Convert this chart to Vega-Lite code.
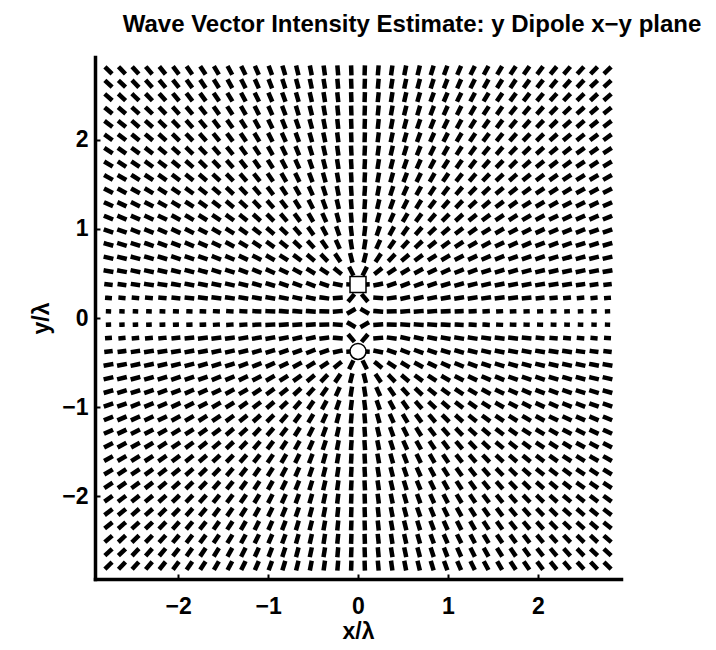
{
  "$schema": "https://vega.github.io/schema/vega-lite/v6.json",
  "width": 526,
  "height": 522,
  "autosize": {"type": "none"},
  "padding": {"left": 95, "top": 57, "right": 95, "bottom": 71},
  "background": "white",
  "config": {
    "view": {"stroke": null},
    "font": "Liberation Sans",
    "axis": {
      "grid": false,
      "domainColor": "black",
      "domainWidth": 3.5,
      "domainCap": "square",
      "tickColor": "black",
      "tickWidth": 2,
      "tickSize": -5,
      "labelFont": "Liberation Sans",
      "labelFontSize": 23,
      "labelFontWeight": "bold",
      "labelColor": "black",
      "titleFont": "Liberation Sans",
      "titleFontSize": 23,
      "titleFontWeight": "bold",
      "titleColor": "black"
    }
  },
  "title": {
    "text": "Wave Vector Intensity Estimate: y Dipole x−y plane",
    "font": "Liberation Sans",
    "fontSize": 24,
    "fontWeight": "bold",
    "color": "black",
    "anchor": "middle",
    "frame": "group",
    "dx": 54,
    "dy": 24,
    "offset": 25,
    "baseline": "alphabetic"
  },
  "datasets": {
    "field": [
{"x":-2.775,"y":2.775,"a":136},{"x":-2.625,"y":2.775,"a":134},{"x":-2.475,"y":2.775,"a":132},{"x":-2.325,"y":2.775,"a":131},{"x":-2.175,"y":2.775,"a":129},{"x":-2.025,"y":2.775,"a":127},{"x":-1.875,"y":2.775,"a":125},{"x":-1.725,"y":2.775,"a":123},{"x":-1.575,"y":2.775,"a":120},{"x":-1.425,"y":2.775,"a":118},{"x":-1.275,"y":2.775,"a":116},{"x":-1.125,"y":2.775,"a":113},{"x":-0.975,"y":2.775,"a":110},{"x":-0.825,"y":2.775,"a":107},{"x":-0.675,"y":2.775,"a":104},{"x":-0.525,"y":2.775,"a":101},{"x":-0.375,"y":2.775,"a":98},{"x":-0.225,"y":2.775,"a":95},{"x":-0.075,"y":2.775,"a":92},
{"x":0.075,"y":2.775,"a":88},{"x":0.225,"y":2.775,"a":85},{"x":0.375,"y":2.775,"a":82},{"x":0.525,"y":2.775,"a":79},{"x":0.675,"y":2.775,"a":76},{"x":0.825,"y":2.775,"a":73},{"x":0.975,"y":2.775,"a":70},{"x":1.125,"y":2.775,"a":67},{"x":1.275,"y":2.775,"a":64},{"x":1.425,"y":2.775,"a":62},{"x":1.575,"y":2.775,"a":60},{"x":1.725,"y":2.775,"a":57},{"x":1.875,"y":2.775,"a":55},{"x":2.025,"y":2.775,"a":53},{"x":2.175,"y":2.775,"a":51},{"x":2.325,"y":2.775,"a":49},{"x":2.475,"y":2.775,"a":48},{"x":2.625,"y":2.775,"a":46},{"x":2.775,"y":2.775,"a":44},
{"x":-2.775,"y":2.625,"a":137},{"x":-2.625,"y":2.625,"a":136},{"x":-2.475,"y":2.625,"a":134},{"x":-2.325,"y":2.625,"a":132},{"x":-2.175,"y":2.625,"a":130},{"x":-2.025,"y":2.625,"a":128},{"x":-1.875,"y":2.625,"a":126},{"x":-1.725,"y":2.625,"a":124},{"x":-1.575,"y":2.625,"a":122},{"x":-1.425,"y":2.625,"a":119},{"x":-1.275,"y":2.625,"a":117},{"x":-1.125,"y":2.625,"a":114},{"x":-0.975,"y":2.625,"a":111},{"x":-0.825,"y":2.625,"a":108},{"x":-0.675,"y":2.625,"a":105},{"x":-0.525,"y":2.625,"a":102},{"x":-0.375,"y":2.625,"a":99},{"x":-0.225,"y":2.625,"a":95},{"x":-0.075,"y":2.625,"a":92},
{"x":0.075,"y":2.625,"a":88},{"x":0.225,"y":2.625,"a":85},{"x":0.375,"y":2.625,"a":81},{"x":0.525,"y":2.625,"a":78},{"x":0.675,"y":2.625,"a":75},{"x":0.825,"y":2.625,"a":72},{"x":0.975,"y":2.625,"a":69},{"x":1.125,"y":2.625,"a":66},{"x":1.275,"y":2.625,"a":63},{"x":1.425,"y":2.625,"a":61},{"x":1.575,"y":2.625,"a":58},{"x":1.725,"y":2.625,"a":56},{"x":1.875,"y":2.625,"a":54},{"x":2.025,"y":2.625,"a":52},{"x":2.175,"y":2.625,"a":50},{"x":2.325,"y":2.625,"a":48},{"x":2.475,"y":2.625,"a":46},{"x":2.625,"y":2.625,"a":44},{"x":2.775,"y":2.625,"a":43},
{"x":-2.775,"y":2.475,"a":139},{"x":-2.625,"y":2.475,"a":137},{"x":-2.475,"y":2.475,"a":136},{"x":-2.325,"y":2.475,"a":134},{"x":-2.175,"y":2.475,"a":132},{"x":-2.025,"y":2.475,"a":130},{"x":-1.875,"y":2.475,"a":128},{"x":-1.725,"y":2.475,"a":126},{"x":-1.575,"y":2.475,"a":124},{"x":-1.425,"y":2.475,"a":121},{"x":-1.275,"y":2.475,"a":118},{"x":-1.125,"y":2.475,"a":116},{"x":-0.975,"y":2.475,"a":113},{"x":-0.825,"y":2.475,"a":110},{"x":-0.675,"y":2.475,"a":106},{"x":-0.525,"y":2.475,"a":103},{"x":-0.375,"y":2.475,"a":99},{"x":-0.225,"y":2.475,"a":96},{"x":-0.075,"y":2.475,"a":92},
{"x":0.075,"y":2.475,"a":88},{"x":0.225,"y":2.475,"a":84},{"x":0.375,"y":2.475,"a":81},{"x":0.525,"y":2.475,"a":77},{"x":0.675,"y":2.475,"a":74},{"x":0.825,"y":2.475,"a":70},{"x":0.975,"y":2.475,"a":67},{"x":1.125,"y":2.475,"a":64},{"x":1.275,"y":2.475,"a":62},{"x":1.425,"y":2.475,"a":59},{"x":1.575,"y":2.475,"a":56},{"x":1.725,"y":2.475,"a":54},{"x":1.875,"y":2.475,"a":52},{"x":2.025,"y":2.475,"a":50},{"x":2.175,"y":2.475,"a":48},{"x":2.325,"y":2.475,"a":46},{"x":2.475,"y":2.475,"a":44},{"x":2.625,"y":2.475,"a":43},{"x":2.775,"y":2.475,"a":41},
{"x":-2.775,"y":2.325,"a":141},{"x":-2.625,"y":2.325,"a":139},{"x":-2.475,"y":2.325,"a":138},{"x":-2.325,"y":2.325,"a":136},{"x":-2.175,"y":2.325,"a":134},{"x":-2.025,"y":2.325,"a":132},{"x":-1.875,"y":2.325,"a":130},{"x":-1.725,"y":2.325,"a":128},{"x":-1.575,"y":2.325,"a":125},{"x":-1.425,"y":2.325,"a":123},{"x":-1.275,"y":2.325,"a":120},{"x":-1.125,"y":2.325,"a":117},{"x":-0.975,"y":2.325,"a":114},{"x":-0.825,"y":2.325,"a":111},{"x":-0.675,"y":2.325,"a":107},{"x":-0.525,"y":2.325,"a":104},{"x":-0.375,"y":2.325,"a":100},{"x":-0.225,"y":2.325,"a":96},{"x":-0.075,"y":2.325,"a":92},
{"x":0.075,"y":2.325,"a":88},{"x":0.225,"y":2.325,"a":84},{"x":0.375,"y":2.325,"a":80},{"x":0.525,"y":2.325,"a":76},{"x":0.675,"y":2.325,"a":73},{"x":0.825,"y":2.325,"a":69},{"x":0.975,"y":2.325,"a":66},{"x":1.125,"y":2.325,"a":63},{"x":1.275,"y":2.325,"a":60},{"x":1.425,"y":2.325,"a":57},{"x":1.575,"y":2.325,"a":55},{"x":1.725,"y":2.325,"a":52},{"x":1.875,"y":2.325,"a":50},{"x":2.025,"y":2.325,"a":48},{"x":2.175,"y":2.325,"a":46},{"x":2.325,"y":2.325,"a":44},{"x":2.475,"y":2.325,"a":42},{"x":2.625,"y":2.325,"a":41},{"x":2.775,"y":2.325,"a":39},
{"x":-2.775,"y":2.175,"a":143},{"x":-2.625,"y":2.175,"a":141},{"x":-2.475,"y":2.175,"a":139},{"x":-2.325,"y":2.175,"a":138},{"x":-2.175,"y":2.175,"a":136},{"x":-2.025,"y":2.175,"a":134},{"x":-1.875,"y":2.175,"a":132},{"x":-1.725,"y":2.175,"a":130},{"x":-1.575,"y":2.175,"a":127},{"x":-1.425,"y":2.175,"a":125},{"x":-1.275,"y":2.175,"a":122},{"x":-1.125,"y":2.175,"a":119},{"x":-0.975,"y":2.175,"a":116},{"x":-0.825,"y":2.175,"a":112},{"x":-0.675,"y":2.175,"a":109},{"x":-0.525,"y":2.175,"a":105},{"x":-0.375,"y":2.175,"a":101},{"x":-0.225,"y":2.175,"a":96},{"x":-0.075,"y":2.175,"a":92},
{"x":0.075,"y":2.175,"a":88},{"x":0.225,"y":2.175,"a":84},{"x":0.375,"y":2.175,"a":79},{"x":0.525,"y":2.175,"a":75},{"x":0.675,"y":2.175,"a":71},{"x":0.825,"y":2.175,"a":68},{"x":0.975,"y":2.175,"a":64},{"x":1.125,"y":2.175,"a":61},{"x":1.275,"y":2.175,"a":58},{"x":1.425,"y":2.175,"a":55},{"x":1.575,"y":2.175,"a":53},{"x":1.725,"y":2.175,"a":50},{"x":1.875,"y":2.175,"a":48},{"x":2.025,"y":2.175,"a":46},{"x":2.175,"y":2.175,"a":44},{"x":2.325,"y":2.175,"a":42},{"x":2.475,"y":2.175,"a":41},{"x":2.625,"y":2.175,"a":39},{"x":2.775,"y":2.175,"a":37},
{"x":-2.775,"y":2.025,"a":144},{"x":-2.625,"y":2.025,"a":143},{"x":-2.475,"y":2.025,"a":141},{"x":-2.325,"y":2.025,"a":140},{"x":-2.175,"y":2.025,"a":138},{"x":-2.025,"y":2.025,"a":136},{"x":-1.875,"y":2.025,"a":134},{"x":-1.725,"y":2.025,"a":132},{"x":-1.575,"y":2.025,"a":129},{"x":-1.425,"y":2.025,"a":127},{"x":-1.275,"y":2.025,"a":124},{"x":-1.125,"y":2.025,"a":121},{"x":-0.975,"y":2.025,"a":117},{"x":-0.825,"y":2.025,"a":114},{"x":-0.675,"y":2.025,"a":110},{"x":-0.525,"y":2.025,"a":106},{"x":-0.375,"y":2.025,"a":102},{"x":-0.225,"y":2.025,"a":97},{"x":-0.075,"y":2.025,"a":92},
{"x":0.075,"y":2.025,"a":88},{"x":0.225,"y":2.025,"a":83},{"x":0.375,"y":2.025,"a":78},{"x":0.525,"y":2.025,"a":74},{"x":0.675,"y":2.025,"a":70},{"x":0.825,"y":2.025,"a":66},{"x":0.975,"y":2.025,"a":63},{"x":1.125,"y":2.025,"a":59},{"x":1.275,"y":2.025,"a":56},{"x":1.425,"y":2.025,"a":53},{"x":1.575,"y":2.025,"a":51},{"x":1.725,"y":2.025,"a":48},{"x":1.875,"y":2.025,"a":46},{"x":2.025,"y":2.025,"a":44},{"x":2.175,"y":2.025,"a":42},{"x":2.325,"y":2.025,"a":40},{"x":2.475,"y":2.025,"a":39},{"x":2.625,"y":2.025,"a":37},{"x":2.775,"y":2.025,"a":36},
{"x":-2.775,"y":1.875,"a":147},{"x":-2.625,"y":1.875,"a":145},{"x":-2.475,"y":1.875,"a":144},{"x":-2.325,"y":1.875,"a":142},{"x":-2.175,"y":1.875,"a":140},{"x":-2.025,"y":1.875,"a":138},{"x":-1.875,"y":1.875,"a":136},{"x":-1.725,"y":1.875,"a":134},{"x":-1.575,"y":1.875,"a":131},{"x":-1.425,"y":1.875,"a":129},{"x":-1.275,"y":1.875,"a":126},{"x":-1.125,"y":1.875,"a":123},{"x":-0.975,"y":1.875,"a":119},{"x":-0.825,"y":1.875,"a":116},{"x":-0.675,"y":1.875,"a":112},{"x":-0.525,"y":1.875,"a":107},{"x":-0.375,"y":1.875,"a":103},{"x":-0.225,"y":1.875,"a":98},{"x":-0.075,"y":1.875,"a":93},
{"x":0.075,"y":1.875,"a":87},{"x":0.225,"y":1.875,"a":82},{"x":0.375,"y":1.875,"a":77},{"x":0.525,"y":1.875,"a":73},{"x":0.675,"y":1.875,"a":68},{"x":0.825,"y":1.875,"a":64},{"x":0.975,"y":1.875,"a":61},{"x":1.125,"y":1.875,"a":57},{"x":1.275,"y":1.875,"a":54},{"x":1.425,"y":1.875,"a":51},{"x":1.575,"y":1.875,"a":49},{"x":1.725,"y":1.875,"a":46},{"x":1.875,"y":1.875,"a":44},{"x":2.025,"y":1.875,"a":42},{"x":2.175,"y":1.875,"a":40},{"x":2.325,"y":1.875,"a":38},{"x":2.475,"y":1.875,"a":36},{"x":2.625,"y":1.875,"a":35},{"x":2.775,"y":1.875,"a":33},
{"x":-2.775,"y":1.725,"a":149},{"x":-2.625,"y":1.725,"a":147},{"x":-2.475,"y":1.725,"a":146},{"x":-2.325,"y":1.725,"a":144},{"x":-2.175,"y":1.725,"a":143},{"x":-2.025,"y":1.725,"a":141},{"x":-1.875,"y":1.725,"a":139},{"x":-1.725,"y":1.725,"a":136},{"x":-1.575,"y":1.725,"a":134},{"x":-1.425,"y":1.725,"a":131},{"x":-1.275,"y":1.725,"a":128},{"x":-1.125,"y":1.725,"a":125},{"x":-0.975,"y":1.725,"a":122},{"x":-0.825,"y":1.725,"a":118},{"x":-0.675,"y":1.725,"a":114},{"x":-0.525,"y":1.725,"a":109},{"x":-0.375,"y":1.725,"a":104},{"x":-0.225,"y":1.725,"a":99},{"x":-0.075,"y":1.725,"a":93},
{"x":0.075,"y":1.725,"a":87},{"x":0.225,"y":1.725,"a":81},{"x":0.375,"y":1.725,"a":76},{"x":0.525,"y":1.725,"a":71},{"x":0.675,"y":1.725,"a":66},{"x":0.825,"y":1.725,"a":62},{"x":0.975,"y":1.725,"a":58},{"x":1.125,"y":1.725,"a":55},{"x":1.275,"y":1.725,"a":52},{"x":1.425,"y":1.725,"a":49},{"x":1.575,"y":1.725,"a":46},{"x":1.725,"y":1.725,"a":44},{"x":1.875,"y":1.725,"a":41},{"x":2.025,"y":1.725,"a":39},{"x":2.175,"y":1.725,"a":37},{"x":2.325,"y":1.725,"a":36},{"x":2.475,"y":1.725,"a":34},{"x":2.625,"y":1.725,"a":33},{"x":2.775,"y":1.725,"a":31},
{"x":-2.775,"y":1.575,"a":151},{"x":-2.625,"y":1.575,"a":150},{"x":-2.475,"y":1.575,"a":148},{"x":-2.325,"y":1.575,"a":147},{"x":-2.175,"y":1.575,"a":145},{"x":-2.025,"y":1.575,"a":143},{"x":-1.875,"y":1.575,"a":141},{"x":-1.725,"y":1.575,"a":139},{"x":-1.575,"y":1.575,"a":137},{"x":-1.425,"y":1.575,"a":134},{"x":-1.275,"y":1.575,"a":131},{"x":-1.125,"y":1.575,"a":128},{"x":-0.975,"y":1.575,"a":124},{"x":-0.825,"y":1.575,"a":120},{"x":-0.675,"y":1.575,"a":116},{"x":-0.525,"y":1.575,"a":111},{"x":-0.375,"y":1.575,"a":106},{"x":-0.225,"y":1.575,"a":100},{"x":-0.075,"y":1.575,"a":93},
{"x":0.075,"y":1.575,"a":87},{"x":0.225,"y":1.575,"a":80},{"x":0.375,"y":1.575,"a":74},{"x":0.525,"y":1.575,"a":69},{"x":0.675,"y":1.575,"a":64},{"x":0.825,"y":1.575,"a":60},{"x":0.975,"y":1.575,"a":56},{"x":1.125,"y":1.575,"a":52},{"x":1.275,"y":1.575,"a":49},{"x":1.425,"y":1.575,"a":46},{"x":1.575,"y":1.575,"a":43},{"x":1.725,"y":1.575,"a":41},{"x":1.875,"y":1.575,"a":39},{"x":2.025,"y":1.575,"a":37},{"x":2.175,"y":1.575,"a":35},{"x":2.325,"y":1.575,"a":33},{"x":2.475,"y":1.575,"a":32},{"x":2.625,"y":1.575,"a":30},{"x":2.775,"y":1.575,"a":29},
{"x":-2.775,"y":1.425,"a":153},{"x":-2.625,"y":1.425,"a":152},{"x":-2.475,"y":1.425,"a":151},{"x":-2.325,"y":1.425,"a":149},{"x":-2.175,"y":1.425,"a":148},{"x":-2.025,"y":1.425,"a":146},{"x":-1.875,"y":1.425,"a":144},{"x":-1.725,"y":1.425,"a":142},{"x":-1.575,"y":1.425,"a":140},{"x":-1.425,"y":1.425,"a":137},{"x":-1.275,"y":1.425,"a":134},{"x":-1.125,"y":1.425,"a":131},{"x":-0.975,"y":1.425,"a":127},{"x":-0.825,"y":1.425,"a":123},{"x":-0.675,"y":1.425,"a":119},{"x":-0.525,"y":1.425,"a":114},{"x":-0.375,"y":1.425,"a":108},{"x":-0.225,"y":1.425,"a":101},{"x":-0.075,"y":1.425,"a":94},
{"x":0.075,"y":1.425,"a":86},{"x":0.225,"y":1.425,"a":79},{"x":0.375,"y":1.425,"a":72},{"x":0.525,"y":1.425,"a":66},{"x":0.675,"y":1.425,"a":61},{"x":0.825,"y":1.425,"a":57},{"x":0.975,"y":1.425,"a":53},{"x":1.125,"y":1.425,"a":49},{"x":1.275,"y":1.425,"a":46},{"x":1.425,"y":1.425,"a":43},{"x":1.575,"y":1.425,"a":40},{"x":1.725,"y":1.425,"a":38},{"x":1.875,"y":1.425,"a":36},{"x":2.025,"y":1.425,"a":34},{"x":2.175,"y":1.425,"a":32},{"x":2.325,"y":1.425,"a":31},{"x":2.475,"y":1.425,"a":29},{"x":2.625,"y":1.425,"a":28},{"x":2.775,"y":1.425,"a":27},
{"x":-2.775,"y":1.275,"a":156},{"x":-2.625,"y":1.275,"a":155},{"x":-2.475,"y":1.275,"a":154},{"x":-2.325,"y":1.275,"a":152},{"x":-2.175,"y":1.275,"a":151},{"x":-2.025,"y":1.275,"a":149},{"x":-1.875,"y":1.275,"a":147},{"x":-1.725,"y":1.275,"a":145},{"x":-1.575,"y":1.275,"a":143},{"x":-1.425,"y":1.275,"a":140},{"x":-1.275,"y":1.275,"a":138},{"x":-1.125,"y":1.275,"a":134},{"x":-0.975,"y":1.275,"a":131},{"x":-0.825,"y":1.275,"a":127},{"x":-0.675,"y":1.275,"a":122},{"x":-0.525,"y":1.275,"a":117},{"x":-0.375,"y":1.275,"a":110},{"x":-0.225,"y":1.275,"a":103},{"x":-0.075,"y":1.275,"a":94},
{"x":0.075,"y":1.275,"a":86},{"x":0.225,"y":1.275,"a":77},{"x":0.375,"y":1.275,"a":70},{"x":0.525,"y":1.275,"a":63},{"x":0.675,"y":1.275,"a":58},{"x":0.825,"y":1.275,"a":53},{"x":0.975,"y":1.275,"a":49},{"x":1.125,"y":1.275,"a":46},{"x":1.275,"y":1.275,"a":42},{"x":1.425,"y":1.275,"a":40},{"x":1.575,"y":1.275,"a":37},{"x":1.725,"y":1.275,"a":35},{"x":1.875,"y":1.275,"a":33},{"x":2.025,"y":1.275,"a":31},{"x":2.175,"y":1.275,"a":29},{"x":2.325,"y":1.275,"a":28},{"x":2.475,"y":1.275,"a":26},{"x":2.625,"y":1.275,"a":25},{"x":2.775,"y":1.275,"a":24},
{"x":-2.775,"y":1.125,"a":158},{"x":-2.625,"y":1.125,"a":157},{"x":-2.475,"y":1.125,"a":156},{"x":-2.325,"y":1.125,"a":155},{"x":-2.175,"y":1.125,"a":154},{"x":-2.025,"y":1.125,"a":152},{"x":-1.875,"y":1.125,"a":150},{"x":-1.725,"y":1.125,"a":148},{"x":-1.575,"y":1.125,"a":146},{"x":-1.425,"y":1.125,"a":144},{"x":-1.275,"y":1.125,"a":141},{"x":-1.125,"y":1.125,"a":138},{"x":-0.975,"y":1.125,"a":135},{"x":-0.825,"y":1.125,"a":131},{"x":-0.675,"y":1.125,"a":126},{"x":-0.525,"y":1.125,"a":120},{"x":-0.375,"y":1.125,"a":114},{"x":-0.225,"y":1.125,"a":105},{"x":-0.075,"y":1.125,"a":95},
{"x":0.075,"y":1.125,"a":85},{"x":0.225,"y":1.125,"a":75},{"x":0.375,"y":1.125,"a":66},{"x":0.525,"y":1.125,"a":60},{"x":0.675,"y":1.125,"a":54},{"x":0.825,"y":1.125,"a":49},{"x":0.975,"y":1.125,"a":45},{"x":1.125,"y":1.125,"a":42},{"x":1.275,"y":1.125,"a":39},{"x":1.425,"y":1.125,"a":36},{"x":1.575,"y":1.125,"a":34},{"x":1.725,"y":1.125,"a":32},{"x":1.875,"y":1.125,"a":30},{"x":2.025,"y":1.125,"a":28},{"x":2.175,"y":1.125,"a":26},{"x":2.325,"y":1.125,"a":25},{"x":2.475,"y":1.125,"a":24},{"x":2.625,"y":1.125,"a":23},{"x":2.775,"y":1.125,"a":22},
{"x":-2.775,"y":0.975,"a":161},{"x":-2.625,"y":0.975,"a":160},{"x":-2.475,"y":0.975,"a":159},{"x":-2.325,"y":0.975,"a":158},{"x":-2.175,"y":0.975,"a":157},{"x":-2.025,"y":0.975,"a":155},{"x":-1.875,"y":0.975,"a":154},{"x":-1.725,"y":0.975,"a":152},{"x":-1.575,"y":0.975,"a":150},{"x":-1.425,"y":0.975,"a":148},{"x":-1.275,"y":0.975,"a":145},{"x":-1.125,"y":0.975,"a":142},{"x":-0.975,"y":0.975,"a":139},{"x":-0.825,"y":0.975,"a":136},{"x":-0.675,"y":0.975,"a":131},{"x":-0.525,"y":0.975,"a":125},{"x":-0.375,"y":0.975,"a":118},{"x":-0.225,"y":0.975,"a":109},{"x":-0.075,"y":0.975,"a":97},
{"x":0.075,"y":0.975,"a":83},{"x":0.225,"y":0.975,"a":71},{"x":0.375,"y":0.975,"a":62},{"x":0.525,"y":0.975,"a":55},{"x":0.675,"y":0.975,"a":49},{"x":0.825,"y":0.975,"a":44},{"x":0.975,"y":0.975,"a":41},{"x":1.125,"y":0.975,"a":38},{"x":1.275,"y":0.975,"a":35},{"x":1.425,"y":0.975,"a":32},{"x":1.575,"y":0.975,"a":30},{"x":1.725,"y":0.975,"a":28},{"x":1.875,"y":0.975,"a":26},{"x":2.025,"y":0.975,"a":25},{"x":2.175,"y":0.975,"a":23},{"x":2.325,"y":0.975,"a":22},{"x":2.475,"y":0.975,"a":21},{"x":2.625,"y":0.975,"a":20},{"x":2.775,"y":0.975,"a":19},
{"x":-2.775,"y":0.825,"a":164},{"x":-2.625,"y":0.825,"a":163},{"x":-2.475,"y":0.825,"a":162},{"x":-2.325,"y":0.825,"a":161},{"x":-2.175,"y":0.825,"a":160},{"x":-2.025,"y":0.825,"a":159},{"x":-1.875,"y":0.825,"a":157},{"x":-1.725,"y":0.825,"a":156},{"x":-1.575,"y":0.825,"a":154},{"x":-1.425,"y":0.825,"a":152},{"x":-1.275,"y":0.825,"a":150},{"x":-1.125,"y":0.825,"a":147},{"x":-0.975,"y":0.825,"a":144},{"x":-0.825,"y":0.825,"a":141},{"x":-0.675,"y":0.825,"a":137},{"x":-0.525,"y":0.825,"a":132},{"x":-0.375,"y":0.825,"a":125},{"x":-0.225,"y":0.825,"a":114},{"x":-0.075,"y":0.825,"a":99},
{"x":0.075,"y":0.825,"a":81},{"x":0.225,"y":0.825,"a":66},{"x":0.375,"y":0.825,"a":55},{"x":0.525,"y":0.825,"a":48},{"x":0.675,"y":0.825,"a":43},{"x":0.825,"y":0.825,"a":39},{"x":0.975,"y":0.825,"a":36},{"x":1.125,"y":0.825,"a":33},{"x":1.275,"y":0.825,"a":30},{"x":1.425,"y":0.825,"a":28},{"x":1.575,"y":0.825,"a":26},{"x":1.725,"y":0.825,"a":24},{"x":1.875,"y":0.825,"a":23},{"x":2.025,"y":0.825,"a":21},{"x":2.175,"y":0.825,"a":20},{"x":2.325,"y":0.825,"a":19},{"x":2.475,"y":0.825,"a":18},{"x":2.625,"y":0.825,"a":17},{"x":2.775,"y":0.825,"a":16},
{"x":-2.775,"y":0.675,"a":167},{"x":-2.625,"y":0.675,"a":166},{"x":-2.475,"y":0.675,"a":165},{"x":-2.325,"y":0.675,"a":164},{"x":-2.175,"y":0.675,"a":163},{"x":-2.025,"y":0.675,"a":162},{"x":-1.875,"y":0.675,"a":161},{"x":-1.725,"y":0.675,"a":160},{"x":-1.575,"y":0.675,"a":158},{"x":-1.425,"y":0.675,"a":157},{"x":-1.275,"y":0.675,"a":155},{"x":-1.125,"y":0.675,"a":153},{"x":-0.975,"y":0.675,"a":150},{"x":-0.825,"y":0.675,"a":147},{"x":-0.675,"y":0.675,"a":144},{"x":-0.525,"y":0.675,"a":140},{"x":-0.375,"y":0.675,"a":134},{"x":-0.225,"y":0.675,"a":124},{"x":-0.075,"y":0.675,"a":104},
{"x":0.075,"y":0.675,"a":76},{"x":0.225,"y":0.675,"a":56},{"x":0.375,"y":0.675,"a":46},{"x":0.525,"y":0.675,"a":40},{"x":0.675,"y":0.675,"a":36},{"x":0.825,"y":0.675,"a":33},{"x":0.975,"y":0.675,"a":30},{"x":1.125,"y":0.675,"a":27},{"x":1.275,"y":0.675,"a":25},{"x":1.425,"y":0.675,"a":23},{"x":1.575,"y":0.675,"a":22},{"x":1.725,"y":0.675,"a":20},{"x":1.875,"y":0.675,"a":19},{"x":2.025,"y":0.675,"a":18},{"x":2.175,"y":0.675,"a":17},{"x":2.325,"y":0.675,"a":16},{"x":2.475,"y":0.675,"a":15},{"x":2.625,"y":0.675,"a":14},{"x":2.775,"y":0.675,"a":13},
{"x":-2.775,"y":0.525,"a":170},{"x":-2.625,"y":0.525,"a":169},{"x":-2.475,"y":0.525,"a":168},{"x":-2.325,"y":0.525,"a":168},{"x":-2.175,"y":0.525,"a":167},{"x":-2.025,"y":0.525,"a":166},{"x":-1.875,"y":0.525,"a":165},{"x":-1.725,"y":0.525,"a":164},{"x":-1.575,"y":0.525,"a":163},{"x":-1.425,"y":0.525,"a":162},{"x":-1.275,"y":0.525,"a":160},{"x":-1.125,"y":0.525,"a":158},{"x":-0.975,"y":0.525,"a":156},{"x":-0.825,"y":0.525,"a":154},{"x":-0.675,"y":0.525,"a":152},{"x":-0.525,"y":0.525,"a":149},{"x":-0.375,"y":0.525,"a":147},{"x":-0.225,"y":0.525,"a":141},{"x":-0.075,"y":0.525,"a":116},
{"x":0.075,"y":0.525,"a":64},{"x":0.225,"y":0.525,"a":39},{"x":0.375,"y":0.525,"a":33},{"x":0.525,"y":0.525,"a":31},{"x":0.675,"y":0.525,"a":28},{"x":0.825,"y":0.525,"a":26},{"x":0.975,"y":0.525,"a":24},{"x":1.125,"y":0.525,"a":22},{"x":1.275,"y":0.525,"a":20},{"x":1.425,"y":0.525,"a":18},{"x":1.575,"y":0.525,"a":17},{"x":1.725,"y":0.525,"a":16},{"x":1.875,"y":0.525,"a":15},{"x":2.025,"y":0.525,"a":14},{"x":2.175,"y":0.525,"a":13},{"x":2.325,"y":0.525,"a":12},{"x":2.475,"y":0.525,"a":12},{"x":2.625,"y":0.525,"a":11},{"x":2.775,"y":0.525,"a":10},
{"x":-2.325,"y":0.375,"a":171},{"x":-2.175,"y":0.375,"a":171},{"x":-2.025,"y":0.375,"a":170},{"x":-1.875,"y":0.375,"a":169},{"x":-1.725,"y":0.375,"a":169},{"x":-1.575,"y":0.375,"a":168},{"x":-1.425,"y":0.375,"a":167},{"x":-1.275,"y":0.375,"a":166},{"x":-1.125,"y":0.375,"a":164},{"x":-0.975,"y":0.375,"a":163},{"x":-0.825,"y":0.375,"a":161},{"x":-0.675,"y":0.375,"a":160},{"x":-0.525,"y":0.375,"a":159},{"x":-0.375,"y":0.375,"a":161},{"x":-0.225,"y":0.375,"a":168},{"x":-0.075,"y":0.375,"a":178},
{"x":0.075,"y":0.375,"a":2},{"x":0.225,"y":0.375,"a":12},{"x":0.375,"y":0.375,"a":19},{"x":0.525,"y":0.375,"a":21},{"x":0.675,"y":0.375,"a":20},{"x":0.825,"y":0.375,"a":19},{"x":0.975,"y":0.375,"a":17},{"x":1.125,"y":0.375,"a":16},{"x":1.275,"y":0.375,"a":14},{"x":1.425,"y":0.375,"a":13},{"x":1.575,"y":0.375,"a":12},{"x":1.725,"y":0.375,"a":11},{"x":1.875,"y":0.375,"a":11},{"x":2.025,"y":0.375,"a":10},{"x":2.175,"y":0.375,"a":9},{"x":2.325,"y":0.375,"a":9},
{"x":-1.725,"y":0.225,"a":173},{"x":-1.575,"y":0.225,"a":173},{"x":-1.425,"y":0.225,"a":172},{"x":-1.275,"y":0.225,"a":171},{"x":-1.125,"y":0.225,"a":171},{"x":-0.975,"y":0.225,"a":170},{"x":-0.825,"y":0.225,"a":169},{"x":-0.675,"y":0.225,"a":168},{"x":-0.525,"y":0.225,"a":168},{"x":-0.375,"y":0.225,"a":172},{"x":-0.225,"y":0.225,"a":5},{"x":-0.075,"y":0.225,"a":50},
{"x":0.075,"y":0.225,"a":130},{"x":0.225,"y":0.225,"a":175},{"x":0.375,"y":0.225,"a":8},{"x":0.525,"y":0.225,"a":12},{"x":0.675,"y":0.225,"a":12},{"x":0.825,"y":0.225,"a":11},{"x":0.975,"y":0.225,"a":10},{"x":1.125,"y":0.225,"a":9},{"x":1.275,"y":0.225,"a":9},{"x":1.425,"y":0.225,"a":8},{"x":1.575,"y":0.225,"a":7},{"x":1.725,"y":0.225,"a":7},
{"x":-0.975,"y":0.075,"a":177},{"x":-0.825,"y":0.075,"a":176},{"x":-0.675,"y":0.075,"a":176},{"x":-0.525,"y":0.075,"a":176},{"x":-0.375,"y":0.075,"a":178},{"x":-0.225,"y":0.075,"a":4},{"x":-0.075,"y":0.075,"a":30},
{"x":0.075,"y":0.075,"a":150},{"x":0.225,"y":0.075,"a":176},{"x":0.375,"y":0.075,"a":2},{"x":0.525,"y":0.075,"a":4},{"x":0.675,"y":0.075,"a":4},{"x":0.825,"y":0.075,"a":4},{"x":0.975,"y":0.075,"a":3},
{"x":-0.975,"y":-0.075,"a":3},{"x":-0.825,"y":-0.075,"a":4},{"x":-0.675,"y":-0.075,"a":4},{"x":-0.525,"y":-0.075,"a":4},{"x":-0.375,"y":-0.075,"a":2},{"x":-0.225,"y":-0.075,"a":176},{"x":-0.075,"y":-0.075,"a":150},
{"x":0.075,"y":-0.075,"a":30},{"x":0.225,"y":-0.075,"a":4},{"x":0.375,"y":-0.075,"a":178},{"x":0.525,"y":-0.075,"a":176},{"x":0.675,"y":-0.075,"a":176},{"x":0.825,"y":-0.075,"a":176},{"x":0.975,"y":-0.075,"a":177},
{"x":-1.725,"y":-0.225,"a":7},{"x":-1.575,"y":-0.225,"a":7},{"x":-1.425,"y":-0.225,"a":8},{"x":-1.275,"y":-0.225,"a":9},{"x":-1.125,"y":-0.225,"a":9},{"x":-0.975,"y":-0.225,"a":10},{"x":-0.825,"y":-0.225,"a":11},{"x":-0.675,"y":-0.225,"a":12},{"x":-0.525,"y":-0.225,"a":12},{"x":-0.375,"y":-0.225,"a":8},{"x":-0.225,"y":-0.225,"a":175},{"x":-0.075,"y":-0.225,"a":130},
{"x":0.075,"y":-0.225,"a":50},{"x":0.225,"y":-0.225,"a":5},{"x":0.375,"y":-0.225,"a":172},{"x":0.525,"y":-0.225,"a":168},{"x":0.675,"y":-0.225,"a":168},{"x":0.825,"y":-0.225,"a":169},{"x":0.975,"y":-0.225,"a":170},{"x":1.125,"y":-0.225,"a":171},{"x":1.275,"y":-0.225,"a":171},{"x":1.425,"y":-0.225,"a":172},{"x":1.575,"y":-0.225,"a":173},{"x":1.725,"y":-0.225,"a":173},
{"x":-2.325,"y":-0.375,"a":9},{"x":-2.175,"y":-0.375,"a":9},{"x":-2.025,"y":-0.375,"a":10},{"x":-1.875,"y":-0.375,"a":11},{"x":-1.725,"y":-0.375,"a":11},{"x":-1.575,"y":-0.375,"a":12},{"x":-1.425,"y":-0.375,"a":13},{"x":-1.275,"y":-0.375,"a":14},{"x":-1.125,"y":-0.375,"a":16},{"x":-0.975,"y":-0.375,"a":17},{"x":-0.825,"y":-0.375,"a":19},{"x":-0.675,"y":-0.375,"a":20},{"x":-0.525,"y":-0.375,"a":21},{"x":-0.375,"y":-0.375,"a":19},{"x":-0.225,"y":-0.375,"a":12},{"x":-0.075,"y":-0.375,"a":2},
{"x":0.075,"y":-0.375,"a":178},{"x":0.225,"y":-0.375,"a":168},{"x":0.375,"y":-0.375,"a":161},{"x":0.525,"y":-0.375,"a":159},{"x":0.675,"y":-0.375,"a":160},{"x":0.825,"y":-0.375,"a":161},{"x":0.975,"y":-0.375,"a":163},{"x":1.125,"y":-0.375,"a":164},{"x":1.275,"y":-0.375,"a":166},{"x":1.425,"y":-0.375,"a":167},{"x":1.575,"y":-0.375,"a":168},{"x":1.725,"y":-0.375,"a":169},{"x":1.875,"y":-0.375,"a":169},{"x":2.025,"y":-0.375,"a":170},{"x":2.175,"y":-0.375,"a":171},{"x":2.325,"y":-0.375,"a":171},
{"x":-2.775,"y":-0.525,"a":10},{"x":-2.625,"y":-0.525,"a":11},{"x":-2.475,"y":-0.525,"a":12},{"x":-2.325,"y":-0.525,"a":12},{"x":-2.175,"y":-0.525,"a":13},{"x":-2.025,"y":-0.525,"a":14},{"x":-1.875,"y":-0.525,"a":15},{"x":-1.725,"y":-0.525,"a":16},{"x":-1.575,"y":-0.525,"a":17},{"x":-1.425,"y":-0.525,"a":18},{"x":-1.275,"y":-0.525,"a":20},{"x":-1.125,"y":-0.525,"a":22},{"x":-0.975,"y":-0.525,"a":24},{"x":-0.825,"y":-0.525,"a":26},{"x":-0.675,"y":-0.525,"a":28},{"x":-0.525,"y":-0.525,"a":31},{"x":-0.375,"y":-0.525,"a":33},{"x":-0.225,"y":-0.525,"a":39},{"x":-0.075,"y":-0.525,"a":64},
{"x":0.075,"y":-0.525,"a":116},{"x":0.225,"y":-0.525,"a":141},{"x":0.375,"y":-0.525,"a":147},{"x":0.525,"y":-0.525,"a":149},{"x":0.675,"y":-0.525,"a":152},{"x":0.825,"y":-0.525,"a":154},{"x":0.975,"y":-0.525,"a":156},{"x":1.125,"y":-0.525,"a":158},{"x":1.275,"y":-0.525,"a":160},{"x":1.425,"y":-0.525,"a":162},{"x":1.575,"y":-0.525,"a":163},{"x":1.725,"y":-0.525,"a":164},{"x":1.875,"y":-0.525,"a":165},{"x":2.025,"y":-0.525,"a":166},{"x":2.175,"y":-0.525,"a":167},{"x":2.325,"y":-0.525,"a":168},{"x":2.475,"y":-0.525,"a":168},{"x":2.625,"y":-0.525,"a":169},{"x":2.775,"y":-0.525,"a":170},
{"x":-2.775,"y":-0.675,"a":13},{"x":-2.625,"y":-0.675,"a":14},{"x":-2.475,"y":-0.675,"a":15},{"x":-2.325,"y":-0.675,"a":16},{"x":-2.175,"y":-0.675,"a":17},{"x":-2.025,"y":-0.675,"a":18},{"x":-1.875,"y":-0.675,"a":19},{"x":-1.725,"y":-0.675,"a":20},{"x":-1.575,"y":-0.675,"a":22},{"x":-1.425,"y":-0.675,"a":23},{"x":-1.275,"y":-0.675,"a":25},{"x":-1.125,"y":-0.675,"a":27},{"x":-0.975,"y":-0.675,"a":30},{"x":-0.825,"y":-0.675,"a":33},{"x":-0.675,"y":-0.675,"a":36},{"x":-0.525,"y":-0.675,"a":40},{"x":-0.375,"y":-0.675,"a":46},{"x":-0.225,"y":-0.675,"a":56},{"x":-0.075,"y":-0.675,"a":76},
{"x":0.075,"y":-0.675,"a":104},{"x":0.225,"y":-0.675,"a":124},{"x":0.375,"y":-0.675,"a":134},{"x":0.525,"y":-0.675,"a":140},{"x":0.675,"y":-0.675,"a":144},{"x":0.825,"y":-0.675,"a":147},{"x":0.975,"y":-0.675,"a":150},{"x":1.125,"y":-0.675,"a":153},{"x":1.275,"y":-0.675,"a":155},{"x":1.425,"y":-0.675,"a":157},{"x":1.575,"y":-0.675,"a":158},{"x":1.725,"y":-0.675,"a":160},{"x":1.875,"y":-0.675,"a":161},{"x":2.025,"y":-0.675,"a":162},{"x":2.175,"y":-0.675,"a":163},{"x":2.325,"y":-0.675,"a":164},{"x":2.475,"y":-0.675,"a":165},{"x":2.625,"y":-0.675,"a":166},{"x":2.775,"y":-0.675,"a":167},
{"x":-2.775,"y":-0.825,"a":16},{"x":-2.625,"y":-0.825,"a":17},{"x":-2.475,"y":-0.825,"a":18},{"x":-2.325,"y":-0.825,"a":19},{"x":-2.175,"y":-0.825,"a":20},{"x":-2.025,"y":-0.825,"a":21},{"x":-1.875,"y":-0.825,"a":23},{"x":-1.725,"y":-0.825,"a":24},{"x":-1.575,"y":-0.825,"a":26},{"x":-1.425,"y":-0.825,"a":28},{"x":-1.275,"y":-0.825,"a":30},{"x":-1.125,"y":-0.825,"a":33},{"x":-0.975,"y":-0.825,"a":36},{"x":-0.825,"y":-0.825,"a":39},{"x":-0.675,"y":-0.825,"a":43},{"x":-0.525,"y":-0.825,"a":48},{"x":-0.375,"y":-0.825,"a":55},{"x":-0.225,"y":-0.825,"a":66},{"x":-0.075,"y":-0.825,"a":81},
{"x":0.075,"y":-0.825,"a":99},{"x":0.225,"y":-0.825,"a":114},{"x":0.375,"y":-0.825,"a":125},{"x":0.525,"y":-0.825,"a":132},{"x":0.675,"y":-0.825,"a":137},{"x":0.825,"y":-0.825,"a":141},{"x":0.975,"y":-0.825,"a":144},{"x":1.125,"y":-0.825,"a":147},{"x":1.275,"y":-0.825,"a":150},{"x":1.425,"y":-0.825,"a":152},{"x":1.575,"y":-0.825,"a":154},{"x":1.725,"y":-0.825,"a":156},{"x":1.875,"y":-0.825,"a":157},{"x":2.025,"y":-0.825,"a":159},{"x":2.175,"y":-0.825,"a":160},{"x":2.325,"y":-0.825,"a":161},{"x":2.475,"y":-0.825,"a":162},{"x":2.625,"y":-0.825,"a":163},{"x":2.775,"y":-0.825,"a":164},
{"x":-2.775,"y":-0.975,"a":19},{"x":-2.625,"y":-0.975,"a":20},{"x":-2.475,"y":-0.975,"a":21},{"x":-2.325,"y":-0.975,"a":22},{"x":-2.175,"y":-0.975,"a":23},{"x":-2.025,"y":-0.975,"a":25},{"x":-1.875,"y":-0.975,"a":26},{"x":-1.725,"y":-0.975,"a":28},{"x":-1.575,"y":-0.975,"a":30},{"x":-1.425,"y":-0.975,"a":32},{"x":-1.275,"y":-0.975,"a":35},{"x":-1.125,"y":-0.975,"a":38},{"x":-0.975,"y":-0.975,"a":41},{"x":-0.825,"y":-0.975,"a":44},{"x":-0.675,"y":-0.975,"a":49},{"x":-0.525,"y":-0.975,"a":55},{"x":-0.375,"y":-0.975,"a":62},{"x":-0.225,"y":-0.975,"a":71},{"x":-0.075,"y":-0.975,"a":83},
{"x":0.075,"y":-0.975,"a":97},{"x":0.225,"y":-0.975,"a":109},{"x":0.375,"y":-0.975,"a":118},{"x":0.525,"y":-0.975,"a":125},{"x":0.675,"y":-0.975,"a":131},{"x":0.825,"y":-0.975,"a":136},{"x":0.975,"y":-0.975,"a":139},{"x":1.125,"y":-0.975,"a":142},{"x":1.275,"y":-0.975,"a":145},{"x":1.425,"y":-0.975,"a":148},{"x":1.575,"y":-0.975,"a":150},{"x":1.725,"y":-0.975,"a":152},{"x":1.875,"y":-0.975,"a":154},{"x":2.025,"y":-0.975,"a":155},{"x":2.175,"y":-0.975,"a":157},{"x":2.325,"y":-0.975,"a":158},{"x":2.475,"y":-0.975,"a":159},{"x":2.625,"y":-0.975,"a":160},{"x":2.775,"y":-0.975,"a":161},
{"x":-2.775,"y":-1.125,"a":22},{"x":-2.625,"y":-1.125,"a":23},{"x":-2.475,"y":-1.125,"a":24},{"x":-2.325,"y":-1.125,"a":25},{"x":-2.175,"y":-1.125,"a":26},{"x":-2.025,"y":-1.125,"a":28},{"x":-1.875,"y":-1.125,"a":30},{"x":-1.725,"y":-1.125,"a":32},{"x":-1.575,"y":-1.125,"a":34},{"x":-1.425,"y":-1.125,"a":36},{"x":-1.275,"y":-1.125,"a":39},{"x":-1.125,"y":-1.125,"a":42},{"x":-0.975,"y":-1.125,"a":45},{"x":-0.825,"y":-1.125,"a":49},{"x":-0.675,"y":-1.125,"a":54},{"x":-0.525,"y":-1.125,"a":60},{"x":-0.375,"y":-1.125,"a":66},{"x":-0.225,"y":-1.125,"a":75},{"x":-0.075,"y":-1.125,"a":85},
{"x":0.075,"y":-1.125,"a":95},{"x":0.225,"y":-1.125,"a":105},{"x":0.375,"y":-1.125,"a":114},{"x":0.525,"y":-1.125,"a":120},{"x":0.675,"y":-1.125,"a":126},{"x":0.825,"y":-1.125,"a":131},{"x":0.975,"y":-1.125,"a":135},{"x":1.125,"y":-1.125,"a":138},{"x":1.275,"y":-1.125,"a":141},{"x":1.425,"y":-1.125,"a":144},{"x":1.575,"y":-1.125,"a":146},{"x":1.725,"y":-1.125,"a":148},{"x":1.875,"y":-1.125,"a":150},{"x":2.025,"y":-1.125,"a":152},{"x":2.175,"y":-1.125,"a":154},{"x":2.325,"y":-1.125,"a":155},{"x":2.475,"y":-1.125,"a":156},{"x":2.625,"y":-1.125,"a":157},{"x":2.775,"y":-1.125,"a":158},
{"x":-2.775,"y":-1.275,"a":24},{"x":-2.625,"y":-1.275,"a":25},{"x":-2.475,"y":-1.275,"a":26},{"x":-2.325,"y":-1.275,"a":28},{"x":-2.175,"y":-1.275,"a":29},{"x":-2.025,"y":-1.275,"a":31},{"x":-1.875,"y":-1.275,"a":33},{"x":-1.725,"y":-1.275,"a":35},{"x":-1.575,"y":-1.275,"a":37},{"x":-1.425,"y":-1.275,"a":40},{"x":-1.275,"y":-1.275,"a":42},{"x":-1.125,"y":-1.275,"a":46},{"x":-0.975,"y":-1.275,"a":49},{"x":-0.825,"y":-1.275,"a":53},{"x":-0.675,"y":-1.275,"a":58},{"x":-0.525,"y":-1.275,"a":63},{"x":-0.375,"y":-1.275,"a":70},{"x":-0.225,"y":-1.275,"a":77},{"x":-0.075,"y":-1.275,"a":86},
{"x":0.075,"y":-1.275,"a":94},{"x":0.225,"y":-1.275,"a":103},{"x":0.375,"y":-1.275,"a":110},{"x":0.525,"y":-1.275,"a":117},{"x":0.675,"y":-1.275,"a":122},{"x":0.825,"y":-1.275,"a":127},{"x":0.975,"y":-1.275,"a":131},{"x":1.125,"y":-1.275,"a":134},{"x":1.275,"y":-1.275,"a":138},{"x":1.425,"y":-1.275,"a":140},{"x":1.575,"y":-1.275,"a":143},{"x":1.725,"y":-1.275,"a":145},{"x":1.875,"y":-1.275,"a":147},{"x":2.025,"y":-1.275,"a":149},{"x":2.175,"y":-1.275,"a":151},{"x":2.325,"y":-1.275,"a":152},{"x":2.475,"y":-1.275,"a":154},{"x":2.625,"y":-1.275,"a":155},{"x":2.775,"y":-1.275,"a":156},
{"x":-2.775,"y":-1.425,"a":27},{"x":-2.625,"y":-1.425,"a":28},{"x":-2.475,"y":-1.425,"a":29},{"x":-2.325,"y":-1.425,"a":31},{"x":-2.175,"y":-1.425,"a":32},{"x":-2.025,"y":-1.425,"a":34},{"x":-1.875,"y":-1.425,"a":36},{"x":-1.725,"y":-1.425,"a":38},{"x":-1.575,"y":-1.425,"a":40},{"x":-1.425,"y":-1.425,"a":43},{"x":-1.275,"y":-1.425,"a":46},{"x":-1.125,"y":-1.425,"a":49},{"x":-0.975,"y":-1.425,"a":53},{"x":-0.825,"y":-1.425,"a":57},{"x":-0.675,"y":-1.425,"a":61},{"x":-0.525,"y":-1.425,"a":66},{"x":-0.375,"y":-1.425,"a":72},{"x":-0.225,"y":-1.425,"a":79},{"x":-0.075,"y":-1.425,"a":86},
{"x":0.075,"y":-1.425,"a":94},{"x":0.225,"y":-1.425,"a":101},{"x":0.375,"y":-1.425,"a":108},{"x":0.525,"y":-1.425,"a":114},{"x":0.675,"y":-1.425,"a":119},{"x":0.825,"y":-1.425,"a":123},{"x":0.975,"y":-1.425,"a":127},{"x":1.125,"y":-1.425,"a":131},{"x":1.275,"y":-1.425,"a":134},{"x":1.425,"y":-1.425,"a":137},{"x":1.575,"y":-1.425,"a":140},{"x":1.725,"y":-1.425,"a":142},{"x":1.875,"y":-1.425,"a":144},{"x":2.025,"y":-1.425,"a":146},{"x":2.175,"y":-1.425,"a":148},{"x":2.325,"y":-1.425,"a":149},{"x":2.475,"y":-1.425,"a":151},{"x":2.625,"y":-1.425,"a":152},{"x":2.775,"y":-1.425,"a":153},
{"x":-2.775,"y":-1.575,"a":29},{"x":-2.625,"y":-1.575,"a":30},{"x":-2.475,"y":-1.575,"a":32},{"x":-2.325,"y":-1.575,"a":33},{"x":-2.175,"y":-1.575,"a":35},{"x":-2.025,"y":-1.575,"a":37},{"x":-1.875,"y":-1.575,"a":39},{"x":-1.725,"y":-1.575,"a":41},{"x":-1.575,"y":-1.575,"a":43},{"x":-1.425,"y":-1.575,"a":46},{"x":-1.275,"y":-1.575,"a":49},{"x":-1.125,"y":-1.575,"a":52},{"x":-0.975,"y":-1.575,"a":56},{"x":-0.825,"y":-1.575,"a":60},{"x":-0.675,"y":-1.575,"a":64},{"x":-0.525,"y":-1.575,"a":69},{"x":-0.375,"y":-1.575,"a":74},{"x":-0.225,"y":-1.575,"a":80},{"x":-0.075,"y":-1.575,"a":87},
{"x":0.075,"y":-1.575,"a":93},{"x":0.225,"y":-1.575,"a":100},{"x":0.375,"y":-1.575,"a":106},{"x":0.525,"y":-1.575,"a":111},{"x":0.675,"y":-1.575,"a":116},{"x":0.825,"y":-1.575,"a":120},{"x":0.975,"y":-1.575,"a":124},{"x":1.125,"y":-1.575,"a":128},{"x":1.275,"y":-1.575,"a":131},{"x":1.425,"y":-1.575,"a":134},{"x":1.575,"y":-1.575,"a":137},{"x":1.725,"y":-1.575,"a":139},{"x":1.875,"y":-1.575,"a":141},{"x":2.025,"y":-1.575,"a":143},{"x":2.175,"y":-1.575,"a":145},{"x":2.325,"y":-1.575,"a":147},{"x":2.475,"y":-1.575,"a":148},{"x":2.625,"y":-1.575,"a":150},{"x":2.775,"y":-1.575,"a":151},
{"x":-2.775,"y":-1.725,"a":31},{"x":-2.625,"y":-1.725,"a":33},{"x":-2.475,"y":-1.725,"a":34},{"x":-2.325,"y":-1.725,"a":36},{"x":-2.175,"y":-1.725,"a":37},{"x":-2.025,"y":-1.725,"a":39},{"x":-1.875,"y":-1.725,"a":41},{"x":-1.725,"y":-1.725,"a":44},{"x":-1.575,"y":-1.725,"a":46},{"x":-1.425,"y":-1.725,"a":49},{"x":-1.275,"y":-1.725,"a":52},{"x":-1.125,"y":-1.725,"a":55},{"x":-0.975,"y":-1.725,"a":58},{"x":-0.825,"y":-1.725,"a":62},{"x":-0.675,"y":-1.725,"a":66},{"x":-0.525,"y":-1.725,"a":71},{"x":-0.375,"y":-1.725,"a":76},{"x":-0.225,"y":-1.725,"a":81},{"x":-0.075,"y":-1.725,"a":87},
{"x":0.075,"y":-1.725,"a":93},{"x":0.225,"y":-1.725,"a":99},{"x":0.375,"y":-1.725,"a":104},{"x":0.525,"y":-1.725,"a":109},{"x":0.675,"y":-1.725,"a":114},{"x":0.825,"y":-1.725,"a":118},{"x":0.975,"y":-1.725,"a":122},{"x":1.125,"y":-1.725,"a":125},{"x":1.275,"y":-1.725,"a":128},{"x":1.425,"y":-1.725,"a":131},{"x":1.575,"y":-1.725,"a":134},{"x":1.725,"y":-1.725,"a":136},{"x":1.875,"y":-1.725,"a":139},{"x":2.025,"y":-1.725,"a":141},{"x":2.175,"y":-1.725,"a":143},{"x":2.325,"y":-1.725,"a":144},{"x":2.475,"y":-1.725,"a":146},{"x":2.625,"y":-1.725,"a":147},{"x":2.775,"y":-1.725,"a":149},
{"x":-2.775,"y":-1.875,"a":33},{"x":-2.625,"y":-1.875,"a":35},{"x":-2.475,"y":-1.875,"a":36},{"x":-2.325,"y":-1.875,"a":38},{"x":-2.175,"y":-1.875,"a":40},{"x":-2.025,"y":-1.875,"a":42},{"x":-1.875,"y":-1.875,"a":44},{"x":-1.725,"y":-1.875,"a":46},{"x":-1.575,"y":-1.875,"a":49},{"x":-1.425,"y":-1.875,"a":51},{"x":-1.275,"y":-1.875,"a":54},{"x":-1.125,"y":-1.875,"a":57},{"x":-0.975,"y":-1.875,"a":61},{"x":-0.825,"y":-1.875,"a":64},{"x":-0.675,"y":-1.875,"a":68},{"x":-0.525,"y":-1.875,"a":73},{"x":-0.375,"y":-1.875,"a":77},{"x":-0.225,"y":-1.875,"a":82},{"x":-0.075,"y":-1.875,"a":87},
{"x":0.075,"y":-1.875,"a":93},{"x":0.225,"y":-1.875,"a":98},{"x":0.375,"y":-1.875,"a":103},{"x":0.525,"y":-1.875,"a":107},{"x":0.675,"y":-1.875,"a":112},{"x":0.825,"y":-1.875,"a":116},{"x":0.975,"y":-1.875,"a":119},{"x":1.125,"y":-1.875,"a":123},{"x":1.275,"y":-1.875,"a":126},{"x":1.425,"y":-1.875,"a":129},{"x":1.575,"y":-1.875,"a":131},{"x":1.725,"y":-1.875,"a":134},{"x":1.875,"y":-1.875,"a":136},{"x":2.025,"y":-1.875,"a":138},{"x":2.175,"y":-1.875,"a":140},{"x":2.325,"y":-1.875,"a":142},{"x":2.475,"y":-1.875,"a":144},{"x":2.625,"y":-1.875,"a":145},{"x":2.775,"y":-1.875,"a":147},
{"x":-2.775,"y":-2.025,"a":36},{"x":-2.625,"y":-2.025,"a":37},{"x":-2.475,"y":-2.025,"a":39},{"x":-2.325,"y":-2.025,"a":40},{"x":-2.175,"y":-2.025,"a":42},{"x":-2.025,"y":-2.025,"a":44},{"x":-1.875,"y":-2.025,"a":46},{"x":-1.725,"y":-2.025,"a":48},{"x":-1.575,"y":-2.025,"a":51},{"x":-1.425,"y":-2.025,"a":53},{"x":-1.275,"y":-2.025,"a":56},{"x":-1.125,"y":-2.025,"a":59},{"x":-0.975,"y":-2.025,"a":63},{"x":-0.825,"y":-2.025,"a":66},{"x":-0.675,"y":-2.025,"a":70},{"x":-0.525,"y":-2.025,"a":74},{"x":-0.375,"y":-2.025,"a":78},{"x":-0.225,"y":-2.025,"a":83},{"x":-0.075,"y":-2.025,"a":88},
{"x":0.075,"y":-2.025,"a":92},{"x":0.225,"y":-2.025,"a":97},{"x":0.375,"y":-2.025,"a":102},{"x":0.525,"y":-2.025,"a":106},{"x":0.675,"y":-2.025,"a":110},{"x":0.825,"y":-2.025,"a":114},{"x":0.975,"y":-2.025,"a":117},{"x":1.125,"y":-2.025,"a":121},{"x":1.275,"y":-2.025,"a":124},{"x":1.425,"y":-2.025,"a":127},{"x":1.575,"y":-2.025,"a":129},{"x":1.725,"y":-2.025,"a":132},{"x":1.875,"y":-2.025,"a":134},{"x":2.025,"y":-2.025,"a":136},{"x":2.175,"y":-2.025,"a":138},{"x":2.325,"y":-2.025,"a":140},{"x":2.475,"y":-2.025,"a":141},{"x":2.625,"y":-2.025,"a":143},{"x":2.775,"y":-2.025,"a":144},
{"x":-2.775,"y":-2.175,"a":37},{"x":-2.625,"y":-2.175,"a":39},{"x":-2.475,"y":-2.175,"a":41},{"x":-2.325,"y":-2.175,"a":42},{"x":-2.175,"y":-2.175,"a":44},{"x":-2.025,"y":-2.175,"a":46},{"x":-1.875,"y":-2.175,"a":48},{"x":-1.725,"y":-2.175,"a":50},{"x":-1.575,"y":-2.175,"a":53},{"x":-1.425,"y":-2.175,"a":55},{"x":-1.275,"y":-2.175,"a":58},{"x":-1.125,"y":-2.175,"a":61},{"x":-0.975,"y":-2.175,"a":64},{"x":-0.825,"y":-2.175,"a":68},{"x":-0.675,"y":-2.175,"a":71},{"x":-0.525,"y":-2.175,"a":75},{"x":-0.375,"y":-2.175,"a":79},{"x":-0.225,"y":-2.175,"a":84},{"x":-0.075,"y":-2.175,"a":88},
{"x":0.075,"y":-2.175,"a":92},{"x":0.225,"y":-2.175,"a":96},{"x":0.375,"y":-2.175,"a":101},{"x":0.525,"y":-2.175,"a":105},{"x":0.675,"y":-2.175,"a":109},{"x":0.825,"y":-2.175,"a":112},{"x":0.975,"y":-2.175,"a":116},{"x":1.125,"y":-2.175,"a":119},{"x":1.275,"y":-2.175,"a":122},{"x":1.425,"y":-2.175,"a":125},{"x":1.575,"y":-2.175,"a":127},{"x":1.725,"y":-2.175,"a":130},{"x":1.875,"y":-2.175,"a":132},{"x":2.025,"y":-2.175,"a":134},{"x":2.175,"y":-2.175,"a":136},{"x":2.325,"y":-2.175,"a":138},{"x":2.475,"y":-2.175,"a":139},{"x":2.625,"y":-2.175,"a":141},{"x":2.775,"y":-2.175,"a":143},
{"x":-2.775,"y":-2.325,"a":39},{"x":-2.625,"y":-2.325,"a":41},{"x":-2.475,"y":-2.325,"a":42},{"x":-2.325,"y":-2.325,"a":44},{"x":-2.175,"y":-2.325,"a":46},{"x":-2.025,"y":-2.325,"a":48},{"x":-1.875,"y":-2.325,"a":50},{"x":-1.725,"y":-2.325,"a":52},{"x":-1.575,"y":-2.325,"a":55},{"x":-1.425,"y":-2.325,"a":57},{"x":-1.275,"y":-2.325,"a":60},{"x":-1.125,"y":-2.325,"a":63},{"x":-0.975,"y":-2.325,"a":66},{"x":-0.825,"y":-2.325,"a":69},{"x":-0.675,"y":-2.325,"a":73},{"x":-0.525,"y":-2.325,"a":76},{"x":-0.375,"y":-2.325,"a":80},{"x":-0.225,"y":-2.325,"a":84},{"x":-0.075,"y":-2.325,"a":88},
{"x":0.075,"y":-2.325,"a":92},{"x":0.225,"y":-2.325,"a":96},{"x":0.375,"y":-2.325,"a":100},{"x":0.525,"y":-2.325,"a":104},{"x":0.675,"y":-2.325,"a":107},{"x":0.825,"y":-2.325,"a":111},{"x":0.975,"y":-2.325,"a":114},{"x":1.125,"y":-2.325,"a":117},{"x":1.275,"y":-2.325,"a":120},{"x":1.425,"y":-2.325,"a":123},{"x":1.575,"y":-2.325,"a":125},{"x":1.725,"y":-2.325,"a":128},{"x":1.875,"y":-2.325,"a":130},{"x":2.025,"y":-2.325,"a":132},{"x":2.175,"y":-2.325,"a":134},{"x":2.325,"y":-2.325,"a":136},{"x":2.475,"y":-2.325,"a":138},{"x":2.625,"y":-2.325,"a":139},{"x":2.775,"y":-2.325,"a":141},
{"x":-2.775,"y":-2.475,"a":41},{"x":-2.625,"y":-2.475,"a":43},{"x":-2.475,"y":-2.475,"a":44},{"x":-2.325,"y":-2.475,"a":46},{"x":-2.175,"y":-2.475,"a":48},{"x":-2.025,"y":-2.475,"a":50},{"x":-1.875,"y":-2.475,"a":52},{"x":-1.725,"y":-2.475,"a":54},{"x":-1.575,"y":-2.475,"a":56},{"x":-1.425,"y":-2.475,"a":59},{"x":-1.275,"y":-2.475,"a":62},{"x":-1.125,"y":-2.475,"a":64},{"x":-0.975,"y":-2.475,"a":67},{"x":-0.825,"y":-2.475,"a":70},{"x":-0.675,"y":-2.475,"a":74},{"x":-0.525,"y":-2.475,"a":77},{"x":-0.375,"y":-2.475,"a":81},{"x":-0.225,"y":-2.475,"a":84},{"x":-0.075,"y":-2.475,"a":88},
{"x":0.075,"y":-2.475,"a":92},{"x":0.225,"y":-2.475,"a":96},{"x":0.375,"y":-2.475,"a":99},{"x":0.525,"y":-2.475,"a":103},{"x":0.675,"y":-2.475,"a":106},{"x":0.825,"y":-2.475,"a":110},{"x":0.975,"y":-2.475,"a":113},{"x":1.125,"y":-2.475,"a":116},{"x":1.275,"y":-2.475,"a":118},{"x":1.425,"y":-2.475,"a":121},{"x":1.575,"y":-2.475,"a":124},{"x":1.725,"y":-2.475,"a":126},{"x":1.875,"y":-2.475,"a":128},{"x":2.025,"y":-2.475,"a":130},{"x":2.175,"y":-2.475,"a":132},{"x":2.325,"y":-2.475,"a":134},{"x":2.475,"y":-2.475,"a":136},{"x":2.625,"y":-2.475,"a":137},{"x":2.775,"y":-2.475,"a":139},
{"x":-2.775,"y":-2.625,"a":43},{"x":-2.625,"y":-2.625,"a":44},{"x":-2.475,"y":-2.625,"a":46},{"x":-2.325,"y":-2.625,"a":48},{"x":-2.175,"y":-2.625,"a":50},{"x":-2.025,"y":-2.625,"a":52},{"x":-1.875,"y":-2.625,"a":54},{"x":-1.725,"y":-2.625,"a":56},{"x":-1.575,"y":-2.625,"a":58},{"x":-1.425,"y":-2.625,"a":61},{"x":-1.275,"y":-2.625,"a":63},{"x":-1.125,"y":-2.625,"a":66},{"x":-0.975,"y":-2.625,"a":69},{"x":-0.825,"y":-2.625,"a":72},{"x":-0.675,"y":-2.625,"a":75},{"x":-0.525,"y":-2.625,"a":78},{"x":-0.375,"y":-2.625,"a":81},{"x":-0.225,"y":-2.625,"a":85},{"x":-0.075,"y":-2.625,"a":88},
{"x":0.075,"y":-2.625,"a":92},{"x":0.225,"y":-2.625,"a":95},{"x":0.375,"y":-2.625,"a":99},{"x":0.525,"y":-2.625,"a":102},{"x":0.675,"y":-2.625,"a":105},{"x":0.825,"y":-2.625,"a":108},{"x":0.975,"y":-2.625,"a":111},{"x":1.125,"y":-2.625,"a":114},{"x":1.275,"y":-2.625,"a":117},{"x":1.425,"y":-2.625,"a":119},{"x":1.575,"y":-2.625,"a":122},{"x":1.725,"y":-2.625,"a":124},{"x":1.875,"y":-2.625,"a":126},{"x":2.025,"y":-2.625,"a":128},{"x":2.175,"y":-2.625,"a":130},{"x":2.325,"y":-2.625,"a":132},{"x":2.475,"y":-2.625,"a":134},{"x":2.625,"y":-2.625,"a":136},{"x":2.775,"y":-2.625,"a":137},
{"x":-2.775,"y":-2.775,"a":44},{"x":-2.625,"y":-2.775,"a":46},{"x":-2.475,"y":-2.775,"a":48},{"x":-2.325,"y":-2.775,"a":49},{"x":-2.175,"y":-2.775,"a":51},{"x":-2.025,"y":-2.775,"a":53},{"x":-1.875,"y":-2.775,"a":55},{"x":-1.725,"y":-2.775,"a":57},{"x":-1.575,"y":-2.775,"a":60},{"x":-1.425,"y":-2.775,"a":62},{"x":-1.275,"y":-2.775,"a":64},{"x":-1.125,"y":-2.775,"a":67},{"x":-0.975,"y":-2.775,"a":70},{"x":-0.825,"y":-2.775,"a":73},{"x":-0.675,"y":-2.775,"a":76},{"x":-0.525,"y":-2.775,"a":79},{"x":-0.375,"y":-2.775,"a":82},{"x":-0.225,"y":-2.775,"a":85},{"x":-0.075,"y":-2.775,"a":88},
{"x":0.075,"y":-2.775,"a":92},{"x":0.225,"y":-2.775,"a":95},{"x":0.375,"y":-2.775,"a":98},{"x":0.525,"y":-2.775,"a":101},{"x":0.675,"y":-2.775,"a":104},{"x":0.825,"y":-2.775,"a":107},{"x":0.975,"y":-2.775,"a":110},{"x":1.125,"y":-2.775,"a":113},{"x":1.275,"y":-2.775,"a":116},{"x":1.425,"y":-2.775,"a":118},{"x":1.575,"y":-2.775,"a":120},{"x":1.725,"y":-2.775,"a":123},{"x":1.875,"y":-2.775,"a":125},{"x":2.025,"y":-2.775,"a":127},{"x":2.175,"y":-2.775,"a":129},{"x":2.325,"y":-2.775,"a":131},{"x":2.475,"y":-2.775,"a":132},{"x":2.625,"y":-2.775,"a":134},{"x":2.775,"y":-2.775,"a":136}
    ],
    "weak": [
{"x":-2.775,"y":0.375,"a":173,"m":0.73},{"x":-2.625,"y":0.375,"a":172,"m":0.81},{"x":-2.475,"y":0.375,"a":172,"m":0.9},
{"x":2.475,"y":0.375,"a":8,"m":0.9},{"x":2.625,"y":0.375,"a":8,"m":0.81},{"x":2.775,"y":0.375,"a":7,"m":0.73},
{"x":-2.775,"y":0.225,"a":176,"m":0.45},{"x":-2.625,"y":0.225,"a":175,"m":0.5},{"x":-2.475,"y":0.225,"a":175,"m":0.56},{"x":-2.325,"y":0.225,"a":175,"m":0.63},{"x":-2.175,"y":0.225,"a":174,"m":0.71},{"x":-2.025,"y":0.225,"a":174,"m":0.82},{"x":-1.875,"y":0.225,"a":174,"m":0.95},
{"x":1.875,"y":0.225,"a":6,"m":0.95},{"x":2.025,"y":0.225,"a":6,"m":0.82},{"x":2.175,"y":0.225,"a":6,"m":0.71},{"x":2.325,"y":0.225,"a":5,"m":0.63},{"x":2.475,"y":0.225,"a":5,"m":0.56},{"x":2.625,"y":0.225,"a":5,"m":0.5},{"x":2.775,"y":0.225,"a":4,"m":0.45},
{"x":-2.775,"y":0.075,"a":178,"m":0.15},{"x":-2.625,"y":0.075,"a":178,"m":0.17},{"x":-2.475,"y":0.075,"a":178,"m":0.19},{"x":-2.325,"y":0.075,"a":178,"m":0.22},{"x":-2.175,"y":0.075,"a":178,"m":0.25},{"x":-2.025,"y":0.075,"a":178,"m":0.29},{"x":-1.875,"y":0.075,"a":178,"m":0.33},{"x":-1.725,"y":0.075,"a":178,"m":0.4},{"x":-1.575,"y":0.075,"a":177,"m":0.47},{"x":-1.425,"y":0.075,"a":177,"m":0.54},{"x":-1.275,"y":0.075,"a":177,"m":0.67},{"x":-1.125,"y":0.075,"a":177,"m":0.84},
{"x":1.125,"y":0.075,"a":3,"m":0.84},{"x":1.275,"y":0.075,"a":3,"m":0.67},{"x":1.425,"y":0.075,"a":3,"m":0.54},{"x":1.575,"y":0.075,"a":3,"m":0.47},{"x":1.725,"y":0.075,"a":2,"m":0.4},{"x":1.875,"y":0.075,"a":2,"m":0.33},{"x":2.025,"y":0.075,"a":2,"m":0.29},{"x":2.175,"y":0.075,"a":2,"m":0.25},{"x":2.325,"y":0.075,"a":2,"m":0.22},{"x":2.475,"y":0.075,"a":2,"m":0.19},{"x":2.625,"y":0.075,"a":2,"m":0.17},{"x":2.775,"y":0.075,"a":2,"m":0.15},
{"x":-2.775,"y":-0.075,"a":2,"m":0.15},{"x":-2.625,"y":-0.075,"a":2,"m":0.17},{"x":-2.475,"y":-0.075,"a":2,"m":0.19},{"x":-2.325,"y":-0.075,"a":2,"m":0.22},{"x":-2.175,"y":-0.075,"a":2,"m":0.25},{"x":-2.025,"y":-0.075,"a":2,"m":0.29},{"x":-1.875,"y":-0.075,"a":2,"m":0.33},{"x":-1.725,"y":-0.075,"a":2,"m":0.4},{"x":-1.575,"y":-0.075,"a":3,"m":0.47},{"x":-1.425,"y":-0.075,"a":3,"m":0.54},{"x":-1.275,"y":-0.075,"a":3,"m":0.67},{"x":-1.125,"y":-0.075,"a":3,"m":0.84},
{"x":1.125,"y":-0.075,"a":177,"m":0.84},{"x":1.275,"y":-0.075,"a":177,"m":0.67},{"x":1.425,"y":-0.075,"a":177,"m":0.54},{"x":1.575,"y":-0.075,"a":177,"m":0.47},{"x":1.725,"y":-0.075,"a":178,"m":0.4},{"x":1.875,"y":-0.075,"a":178,"m":0.33},{"x":2.025,"y":-0.075,"a":178,"m":0.29},{"x":2.175,"y":-0.075,"a":178,"m":0.25},{"x":2.325,"y":-0.075,"a":178,"m":0.22},{"x":2.475,"y":-0.075,"a":178,"m":0.19},{"x":2.625,"y":-0.075,"a":178,"m":0.17},{"x":2.775,"y":-0.075,"a":178,"m":0.15},
{"x":-2.775,"y":-0.225,"a":4,"m":0.45},{"x":-2.625,"y":-0.225,"a":5,"m":0.5},{"x":-2.475,"y":-0.225,"a":5,"m":0.56},{"x":-2.325,"y":-0.225,"a":5,"m":0.63},{"x":-2.175,"y":-0.225,"a":6,"m":0.71},{"x":-2.025,"y":-0.225,"a":6,"m":0.82},{"x":-1.875,"y":-0.225,"a":6,"m":0.95},
{"x":1.875,"y":-0.225,"a":174,"m":0.95},{"x":2.025,"y":-0.225,"a":174,"m":0.82},{"x":2.175,"y":-0.225,"a":174,"m":0.71},{"x":2.325,"y":-0.225,"a":175,"m":0.63},{"x":2.475,"y":-0.225,"a":175,"m":0.56},{"x":2.625,"y":-0.225,"a":175,"m":0.5},{"x":2.775,"y":-0.225,"a":176,"m":0.45},
{"x":-2.775,"y":-0.375,"a":7,"m":0.73},{"x":-2.625,"y":-0.375,"a":8,"m":0.81},{"x":-2.475,"y":-0.375,"a":8,"m":0.9},
{"x":2.475,"y":-0.375,"a":172,"m":0.9},{"x":2.625,"y":-0.375,"a":172,"m":0.81},{"x":2.775,"y":-0.375,"a":173,"m":0.73}
    ],
    "sources": [
      {"x": 0, "y": 0.375, "kind": "square"},
      {"x": 0, "y": -0.375, "kind": "circle"}
    ]
  },
  "layer": [
    {
      "data": {"name": "field"},
      "mark": {"type": "point", "shape": "M-1,0L1,0", "filled": false, "stroke": "black", "strokeWidth": 4.5, "strokeCap": "square", "opacity": 1, "size": 30},
      "encoding": {
        "x": {
          "field": "x", "type": "quantitative",
          "scale": {"domain": [-2.925, 2.925], "nice": false, "zero": false},
          "axis": {"title": "x/λ", "values": [-2, -1, 0, 1, 2], "format": "d", "labelPadding": 21, "titlePadding": 2}
        },
        "y": {
          "field": "y", "type": "quantitative",
          "scale": {"domain": [-2.925, 2.925], "nice": false, "zero": false},
          "axis": {"title": "y/λ", "values": [-2, -1, 0, 1, 2], "format": "d", "labelPadding": 12, "titlePadding": 8}
        },
        "angle": {"field": "a", "type": "quantitative", "scale": {"domain": [0, 180], "range": [180, 0]}, "legend": null}
      }
    },
    {
      "data": {"name": "weak"},
      "mark": {"type": "point", "shape": "M-1,0L1,0", "filled": false, "stroke": "black", "strokeWidth": 4.5, "strokeCap": "square", "opacity": 1},
      "encoding": {
        "x": {"field": "x", "type": "quantitative"},
        "y": {"field": "y", "type": "quantitative"},
        "angle": {"field": "a", "type": "quantitative", "legend": null},
        "size": {"field": "m", "type": "quantitative", "scale": {"type": "pow", "exponent": 2, "domain": [0, 1], "range": [0, 30]}, "legend": null}
      }
    },
    {
      "data": {"name": "sources"},
      "mark": {"type": "point", "filled": true, "fill": "white", "stroke": "black", "strokeWidth": 1.5, "opacity": 1, "size": 256},
      "encoding": {
        "x": {"field": "x", "type": "quantitative"},
        "y": {"field": "y", "type": "quantitative"},
        "shape": {"field": "kind", "type": "nominal", "scale": {"domain": ["square", "circle"], "range": ["square", "circle"]}, "legend": null}
      }
    }
  ]
}
